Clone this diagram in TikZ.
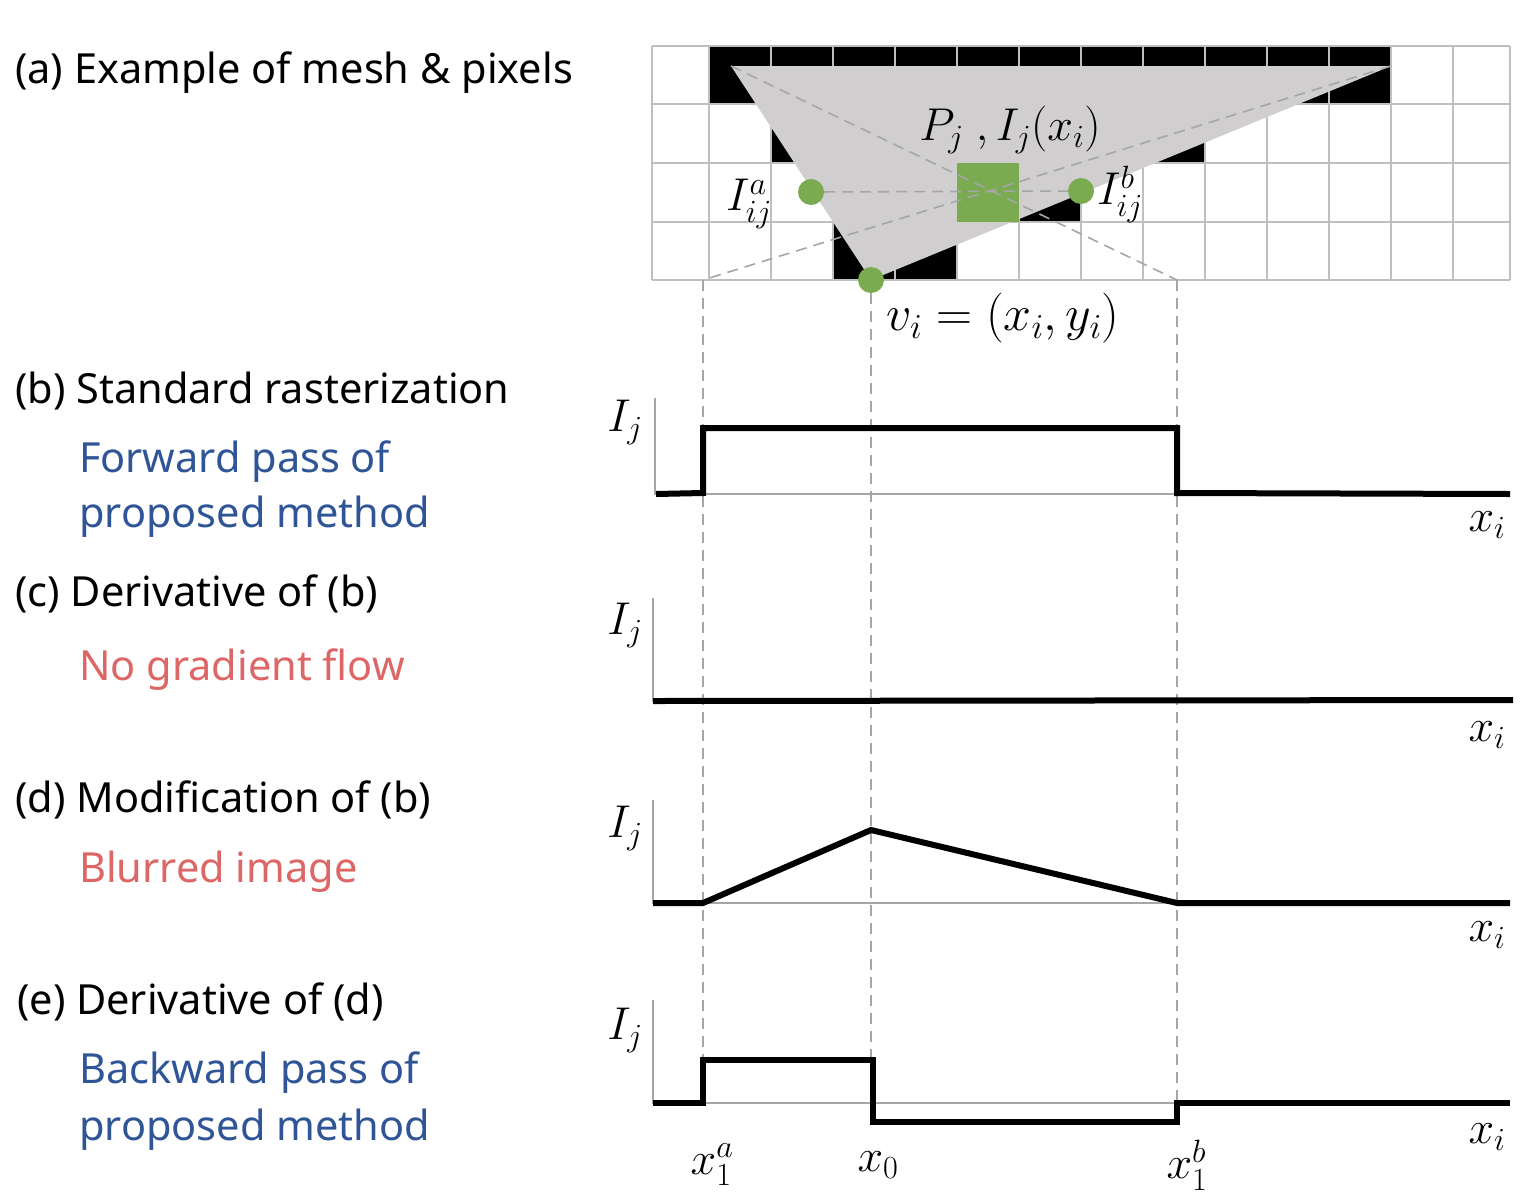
\RequirePackage{fix-cm}
\documentclass[tikz,border=0pt]{standalone}
\usepackage{fontspec}
\setmainfont{Noto Sans}
\definecolor{tri}{HTML}{D0CECE}
\definecolor{grn}{HTML}{7AAB51}
\definecolor{gridc}{HTML}{BFBFBF}
\definecolor{dashc}{HTML}{A6A6A6}
\definecolor{bluet}{HTML}{2F5597}
\definecolor{redt}{HTML}{DD6666}
\begin{document}
\begin{tikzpicture}[x=1pt,y=-1pt,
  lbl/.style={anchor=base west,inner sep=0pt,font=\fontsize{41.5}{46}\selectfont},
  mlbl/.style={inner sep=0pt,font=\fontsize{46}{50}\selectfont},
  gline/.style={draw=gridc,line width=1.3pt},
  dline/.style={draw=dashc,line width=1.6pt,dash pattern=on 11pt off 7pt},
  axisl/.style={draw=dashc,line width=2pt},
  curve/.style={draw=black,line width=6pt,line join=miter},
  gdot/.style={circle,fill=grn,minimum size=26pt,inner sep=0pt}]
\useasboundingbox (0,0) rectangle (1530,1200);
\fill[white] (0,0) rectangle (1530,1200);

% ---------- (a) mesh & pixels ----------
\fill[black] (709,46) rectangle (1391,104);
\fill[black] (771,104) rectangle (1205,163);
\fill[black] (833,163) rectangle (1081,222);
\fill[black] (833,222) rectangle (957,280);
\foreach \y in {46,104,163,222,280} \draw[gline] (652,\y) -- (1510,\y);
\foreach \x in {652,709,771,833,895,957,1019,1081,1143,1205,1267,1329,1391,1453,1510} \draw[gline] (\x,46) -- (\x,280);

\coordinate (t1) at (731,66);
\coordinate (t2) at (1391,66);
\coordinate (t3) at (871,280);
\fill[tri] (t1) -- (t2) -- (t3) -- cycle;
\node[fill=grn,minimum width=62pt,minimum height=59pt,inner sep=0pt,anchor=north west] (pix) at (957,163) {};

\coordinate (ba) at (703,280);
\coordinate (bb) at (1177,280);
\node[gdot] (ia) at (811,192) {};
\node[gdot] (ib) at (1081,191) {};
\draw[dline] (t1) -- (bb);
\draw[dline] (t2) -- (ba);
\draw[dline] (ia) -- (ib);
\node[gdot] (vi) at (871,280) {};

\node[mlbl] (pj) at (1010,130) {$P_j\ ,I_j(x_i)$};
\node[mlbl] (la) at (749,204) {$I^a_{ij}$};
\node[mlbl] (lb) at (1120,194) {$I^b_{ij}$};
\node[mlbl,font=\fontsize{50}{54}\selectfont] (lv) at (1003,318) {$v_i=(x_i,y_i)$};

% vertical dashed guides
\coordinate (ea) at (703,1103);
\coordinate (e0) at (871,1103);
\coordinate (eb) at (1177,1103);
\draw[dline] (ba) -- (ea);
\draw[dline] (vi.south) -- (e0);
\draw[dline] (bb) -- (eb);

% ---------- left texts ----------
\node[lbl] (ta) at (15,83) {(a) Example of mesh \& pixels};
\node[lbl] (tb) at (15,403) {(b) Standard rasterization};
\node[lbl,text=bluet] (tb1) at (79,472) {Forward pass of};
\node[lbl,text=bluet] (tb2) at (79,527) {proposed method};
\node[lbl] (tc) at (15,606) {(c) Derivative of (b)};
\node[lbl,text=redt] (tc1) at (79,680) {No gradient flow};
\node[lbl] (td) at (15,812) {(d) Modification of (b)};
\node[lbl,text=redt] (td1) at (79,882) {Blurred image};
\node[lbl] (te) at (17,1014) {(e) Derivative of (d)};
\node[lbl,text=bluet] (te1) at (79,1083) {Backward pass of};
\node[lbl,text=bluet] (te2) at (79,1140) {proposed method};

% ---------- (b) ----------
\draw[axisl] (655,398) -- (655,494) -- (1510,494);
\draw[curve] (656,494) -- (703,493) -- (703,428) -- (1177,428) -- (1177,493) -- (1510,494);
\node[mlbl] (yb) at (625,422) {$I_j$};
\node[mlbl] (xb) at (1487,525) {$x_i$};

% ---------- (c) ----------
\draw[axisl] (653,598) -- (653,701) -- (1513,701);
\draw[curve] (653,701) -- (1513,700);
\node[mlbl] (yc) at (625,625) {$I_j$};
\node[mlbl] (xc) at (1487,735) {$x_i$};

% ---------- (d) ----------
\draw[axisl] (653,800) -- (653,903) -- (1510,903);
\draw[curve] (653,903) -- (703,903) -- (871,830) -- (1177,903) -- (1510,903);
\node[mlbl] (yd) at (625,828) {$I_j$};
\node[mlbl] (xd) at (1487,935) {$x_i$};

% ---------- (e) ----------
\draw[axisl] (653,1000) -- (653,1103) -- (1510,1103);
\draw[curve] (653,1103) -- (703,1103) -- (703,1060) -- (873,1060) -- (873,1122) -- (1177,1122) -- (1177,1103) -- (1510,1103);
\node[mlbl] (ye) at (625,1030) {$I_j$};
\node[mlbl] (xe) at (1487,1137) {$x_i$};
\node[mlbl] (x1a) at (712,1165) {$x_1^a$};
\node[mlbl] (x0) at (878,1165) {$x_0$};
\node[mlbl] (x1b) at (1187,1165) {$x_1^b$};
\end{tikzpicture}
\end{document}
